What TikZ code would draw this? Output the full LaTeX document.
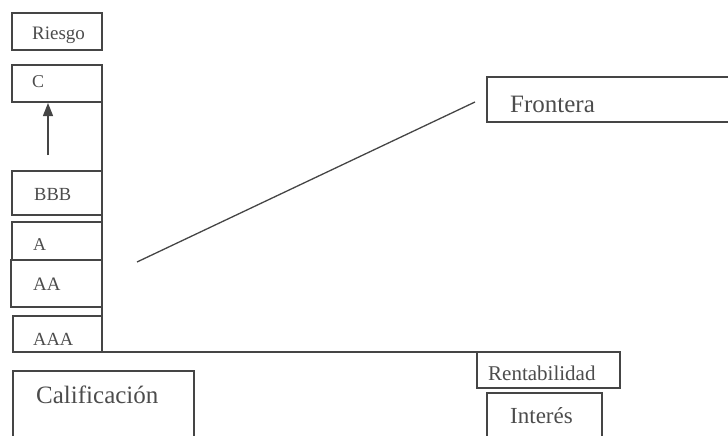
\documentclass[tikz,border=0pt]{standalone}
\usepackage{fontspec}
\setmainfont{Liberation Serif}
\usetikzlibrary{arrows.meta}
\definecolor{ink}{HTML}{454545}
\definecolor{txt}{HTML}{4C4C4C}
\tikzset{
  box/.style={draw=ink, line width=1.4pt, rectangle, inner sep=0pt, outer sep=0pt, anchor=north west},
  lbl/.style={text=txt, inner sep=0pt, anchor=base west},
  axis/.style={draw=ink, line width=1.4pt},
  uparrow/.style={draw=ink, line width=1.3pt, -{Triangle[length=13pt,width=10pt]}}
}
\begin{document}
\begin{tikzpicture}[x=1pt,y=-1pt]
\useasboundingbox (0,0) rectangle (728,436);
\clip (0,0) rectangle (728,436);

% rating scale on the left
\node[box, minimum width=90pt, minimum height=37pt] (riesgo) at (12,13) {};
\node[lbl, font=\fontsize{19}{19}\selectfont] (riesgo-t) at (32,40) {Riesgo};

\node[box, minimum width=90pt, minimum height=37pt] (c) at (12,65) {};
\node[lbl, font=\fontsize{18}{18}\selectfont] (c-t) at (32,87) {C};

\node[box, minimum width=90pt, minimum height=44pt] (bbb) at (12,171) {};
\node[lbl, font=\fontsize{18.5}{18.5}\selectfont] (bbb-t) at (34,200) {BBB};

\node[box, minimum width=90pt, minimum height=38pt] (a) at (12,222) {};
\node[lbl, font=\fontsize{18}{18}\selectfont] (a-t) at (33,250) {A};

\node[box, minimum width=91pt, minimum height=47pt] (aa) at (11,260) {};
\node[lbl, font=\fontsize{19}{19}\selectfont] (aa-t) at (33,290) {AA};

\node[box, minimum width=89pt, minimum height=36pt] (aaa) at (13,316) {};
\node[lbl, font=\fontsize{18.5}{18.5}\selectfont] (aaa-t) at (33,345) {AAA};

% arrow from BBB up to C
\draw[uparrow] ([shift={(-9pt,16pt)}]bbb.north) -- ([shift={(-9pt,-1pt)}]c.south);

% axes
\draw[axis] (c.south east) -- (aaa.south east);

% bottom boxes
\node[box, minimum width=143pt, minimum height=36pt] (rent) at (477,352) {};
\node[lbl, font=\fontsize{21}{21}\selectfont] (rent-t) at (488,380) {Rentabilidad};

\node[box, minimum width=115pt, minimum height=60pt] (inter) at (487,393) {};
\node[lbl, font=\fontsize{23}{23}\selectfont] (inter-t) at (510,423) {Interés};

\node[box, minimum width=181pt, minimum height=80pt] (calif) at (13,371) {};
\node[lbl, font=\fontsize{25}{25}\selectfont] (calif-t) at (36,403) {Calificación};

\draw[axis] (aaa.south west) -- (rent.north west);

% frontier
\node[box, minimum width=253pt, minimum height=45pt] (front) at (487,77) {};
\node[lbl, font=\fontsize{25}{25}\selectfont] (front-t) at (510,112) {Frontera};

\coordinate (f0) at (137,262);
\draw[axis, line width=1.3pt] (f0) -- ([shift={(-12pt,-2.5pt)}]front.west);
\end{tikzpicture}
\end{document}
